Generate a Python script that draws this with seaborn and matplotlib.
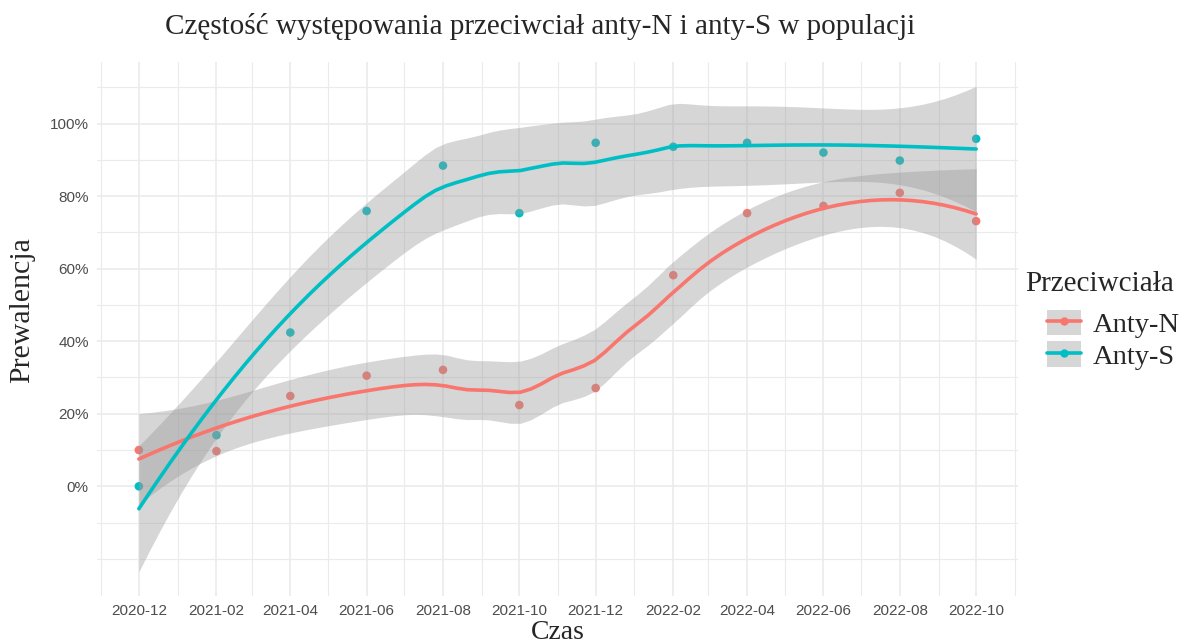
# ==========================
# Prevalence of anti-N / anti-S antibodies (loess smooth, ggplot-like look)
# ==========================

import math
import numpy as np
import pandas as pd
import matplotlib
matplotlib.use("Agg")
import matplotlib.pyplot as plt
import matplotlib.dates as mdates
from matplotlib.lines import Line2D
from matplotlib.patches import Patch
import seaborn as sns

# ==========================
# Data
# ==========================

months = ["2020-12", "2021-02", "2021-04", "2021-06", "2021-08", "2021-10",
          "2021-12", "2022-02", "2022-04", "2022-06", "2022-08", "2022-10"]
anty_n = [10.0, 9.7, 24.9, 30.5, 32.1, 22.4, 27.1, 58.2, 75.3, 77.3, 80.9, 73.1]
anty_s = [0.0, 14.1, 42.4, 75.9, 88.4, 75.3, 94.7, 93.6, 94.7, 92.0, 89.8, 95.8]
groups = ["Anty-N", "Anty-S"]
colors = {"Anty-N": "#F8766D", "Anty-S": "#00BFC4"}

dates = pd.to_datetime(months, format="%Y-%m")
df = pd.DataFrame({
    "Czas": list(dates) * 2,
    "Prewalencja": anty_n + anty_s,
    "Przeciwciała": ["Anty-N"] * len(months) + ["Anty-S"] * len(months),
})

# ==========================
# Loess (span 0.75, degree 2) with 95% CI, like geom_smooth
# ==========================

def loess_matrix(x, x0s, span=0.75):
    n = len(x)
    q = int(np.floor(n * span))
    L = np.zeros((len(x0s), n))
    for k, x0 in enumerate(x0s):
        d = np.abs(x - x0)
        h = np.sort(d)[q - 1]
        w = np.clip(1 - (d / h) ** 3, 0, None) ** 3
        X = np.column_stack([np.ones(n), x - x0, (x - x0) ** 2])
        XtW = X.T * w
        L[k] = (np.linalg.pinv(XtW @ X) @ XtW)[0]
    return L


def t_quantile(p, dof):
    t = np.linspace(0, 30, 300001)
    c = math.exp(math.lgamma((dof + 1) / 2) - math.lgamma(dof / 2)) / math.sqrt(dof * math.pi)
    dens = c * (1 + t ** 2 / dof) ** (-(dof + 1) / 2)
    cdf = 0.5 + np.concatenate([[0], np.cumsum((dens[1:] + dens[:-1]) / 2 * np.diff(t))])
    return np.interp(p, cdf, t)


xnum = (dates - dates[0]).days.values / 30.0
grid = np.linspace(xnum.min(), xnum.max(), 80)
grid_dates = dates[0] + pd.to_timedelta(grid * 30.0, unit="D")

fits = []
for g, vals in zip(groups, [anty_n, anty_s]):
    y = np.array(vals)
    n = len(y)
    Ld = loess_matrix(xnum, xnum)
    R = np.eye(n) - Ld
    M = R.T @ R
    one_delta = np.trace(M)
    two_delta = np.trace(M @ M)
    sigma = np.sqrt(np.sum((R @ y) ** 2) / one_delta)
    dof = one_delta ** 2 / two_delta
    Lg = loess_matrix(xnum, grid)
    fit = Lg @ y
    se = sigma * np.sqrt(np.sum(Lg ** 2, axis=1))
    tq = t_quantile(0.975, dof)
    fits.append(pd.DataFrame({
        "Czas": grid_dates, "fit": fit,
        "lo": fit - tq * se, "hi": fit + tq * se, "Przeciwciała": g,
    }))
smooth = pd.concat(fits, ignore_index=True)

# ==========================
# Plot
# ==========================

sns.set_theme(style="white")
plt.rcParams["font.family"] = ["Liberation Serif", "DejaVu Serif"]

W, H = 1189, 643
fig, ax = plt.subplots(figsize=(W / 100, H / 100), dpi=100)
fig.subplots_adjust(left=97 / W, right=1018 / W, top=1 - 62 / H, bottom=1 - 596 / H)

sns.scatterplot(data=df, x="Czas", y="Prewalencja", hue="Przeciwciała", palette=colors,
                s=38, linewidth=0, ax=ax, legend=False, zorder=2)
for g in groups:
    part = smooth[smooth["Przeciwciała"] == g]
    ax.fill_between(part["Czas"], part["lo"], part["hi"], color="#999999", alpha=0.4,
                    linewidth=0, zorder=3)
sns.lineplot(data=smooth, x="Czas", y="fit", hue="Przeciwciała", palette=colors,
             linewidth=2.6, ax=ax, legend=False, zorder=4)

# grid: major + minor like theme_minimal
major_y = [0, 20, 40, 60, 80, 100]
ax.set_yticks(major_y)
ax.set_yticklabels([f"{v}%" for v in major_y])
ax.set_yticks([v for v in range(-20, 130, 10) if v not in major_y], minor=True)
ax.set_xticks(dates)
ax.xaxis.set_major_formatter(mdates.DateFormatter("%Y-%m"))
minor_x = pd.date_range("2020-11-01", "2022-11-01", freq="2MS")
ax.set_xticks(minor_x, minor=True)

# limits with ggplot's 5% expansion (set after ticks so they are not widened)
ymin = min(smooth["lo"].min(), df["Prewalencja"].min())
ymax = max(smooth["hi"].max(), df["Prewalencja"].max())
ax.set_ylim(ymin - 0.05 * (ymax - ymin), ymax + 0.05 * (ymax - ymin))
span_days = (dates[-1] - dates[0]).days
pad = pd.Timedelta(days=0.05 * span_days)
ax.set_xlim(dates[0] - pad, dates[-1] + pad)

ax.grid(which="major", color="#EBEBEB", linewidth=1.2)
ax.grid(which="minor", color="#EBEBEB", linewidth=0.8)
ax.set_axisbelow(True)
for s in ax.spines.values():
    s.set_visible(False)
ax.tick_params(which="both", length=0)
ax.tick_params(axis="both", labelsize=11, labelcolor="#4D4D4D", pad=6)
for lab in ax.get_xticklabels() + ax.get_yticklabels():
    lab.set_fontfamily("Liberation Sans")

ax.set_xlabel("Czas", fontsize=20, labelpad=1)
ax.set_ylabel("")
fig.text(22 / W, 1 - 310 / H, "Prewalencja", rotation=90, ha="center", va="center", fontsize=21.5)
fig.text(540 / W, 1 - 27 / H, "Częstość występowania przeciwciał anty-N i anty-S w populacji",
         ha="center", va="center", fontsize=21)

# legend with grey key background
fig.text(1025 / W, 1 - 284 / H, "Przeciwciała", ha="left", va="center", fontsize=21)
handles = []
for g in groups:
    handles.append((Patch(facecolor="#999999", alpha=0.4, edgecolor="none"),
                    Line2D([], [], color=colors[g], linewidth=2.6, marker="o", markersize=5)))
leg = fig.legend(handles, groups, loc="upper left", bbox_to_anchor=(1047 / W, 1 - 310 / H),
                 frameon=False, fontsize=20.5, handlelength=1.2, handleheight=1.0,
                 labelspacing=0.1, handletextpad=0.4, borderpad=0, borderaxespad=0)

fig.savefig("out.png", dpi=100)
